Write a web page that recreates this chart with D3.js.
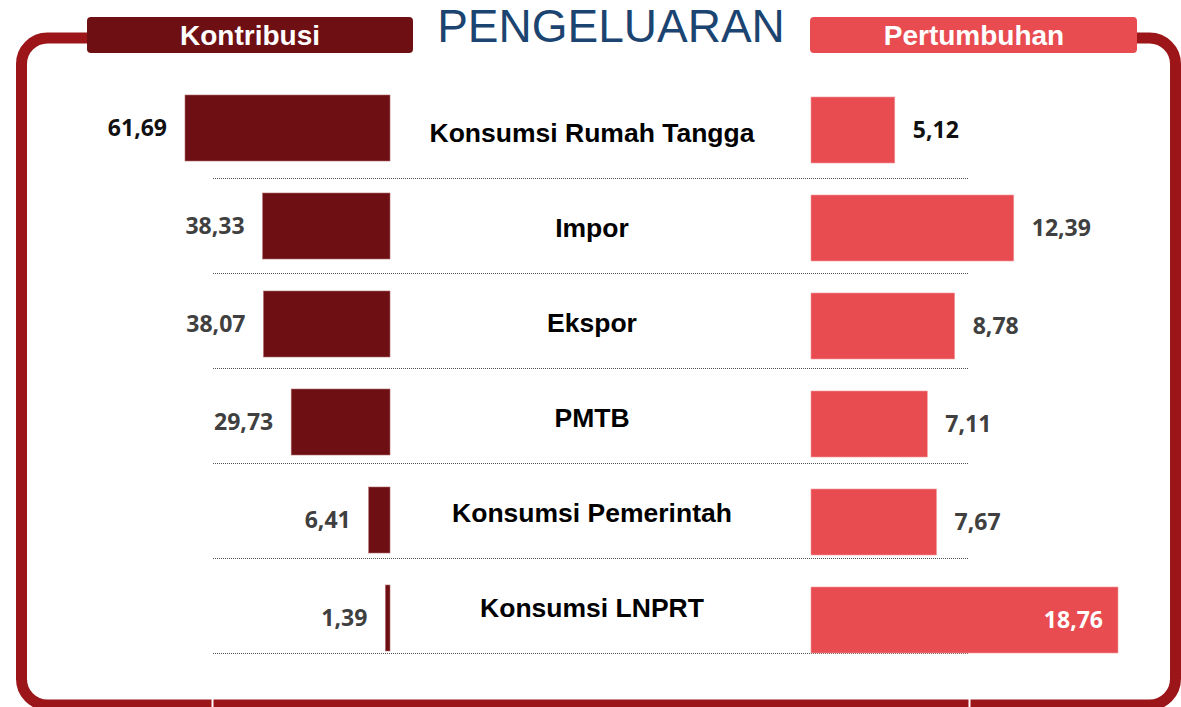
<!DOCTYPE html>
<html>
<head>
<meta charset="utf-8">
<script src="https://cdn.jsdelivr.net/npm/d3@7/dist/d3.min.js"></script>
<style>
  html, body { margin: 0; padding: 0; background: #fff; }
  svg { display: block; }
</style>
</head>
<body>
<svg id="chart" width="1181" height="707"></svg>
<script>
const title = "PENGELUARAN";
const leftHeader = "Kontribusi";
const rightHeader = "Pertumbuhan";
const categories = ["Konsumsi Rumah Tangga", "Impor", "Ekspor", "PMTB", "Konsumsi Pemerintah", "Konsumsi LNPRT"];
const kontribusi = [61.69, 38.33, 38.07, 29.73, 6.41, 1.39];
const pertumbuhan = [5.12, 12.39, 8.78, 7.11, 7.67, 18.76];

const fmt = v => d3.format(".2f")(v).replace(".", ",");

const svg = d3.select("#chart");
const frameColor = "#9b1519";
const leftColor = "#6e1013";
const rightColor = "#e84c51";

// frame
svg.append("rect")
  .attr("x", 21.5).attr("y", 38).attr("width", 1154).attr("height", 667)
  .attr("rx", 26).attr("ry", 26)
  .attr("fill", "none").attr("stroke", frameColor).attr("stroke-width", 11);
// white gap behind title
svg.append("rect").attr("x", 413).attr("y", 28).attr("width", 397).attr("height", 22).attr("fill", "#fff");
// small white gaps in the bottom border
[212.5, 969.5].forEach(x => {
  svg.append("line").attr("x1", x).attr("x2", x).attr("y1", 698).attr("y2", 707)
    .attr("stroke", "#fff").attr("stroke-width", 2);
});

// headers
svg.append("rect").attr("x", 87).attr("y", 17).attr("width", 326).attr("height", 36)
  .attr("rx", 4).attr("fill", leftColor);
svg.append("text").attr("x", 250).attr("y", 45).attr("text-anchor", "middle")
  .attr("font-family", "Liberation Sans, Arial, sans-serif").attr("font-weight", "bold")
  .attr("font-size", 28).attr("fill", "#fff").text(leftHeader);
svg.append("rect").attr("x", 810).attr("y", 17).attr("width", 327).attr("height", 36)
  .attr("rx", 4).attr("fill", rightColor);
svg.append("text").attr("x", 974).attr("y", 45).attr("text-anchor", "middle")
  .attr("font-family", "Liberation Sans, Arial, sans-serif").attr("font-weight", "bold")
  .attr("font-size", 28).attr("fill", "#fff").text(rightHeader);

// title
svg.append("text").attr("x", 611).attr("y", 42).attr("text-anchor", "middle")
  .attr("font-family", "Liberation Sans, Arial, sans-serif")
  .attr("font-size", 46).attr("fill", "#1b4470").text(title);

// scales
const yL = d3.scaleBand().domain(categories).range([95, 651]).paddingInner(32 / 98).paddingOuter(0);
const yR = d3.scaleBand().domain(categories).range([97, 653]).paddingInner(32 / 98).paddingOuter(0);
const yLine = d3.scalePoint().domain(categories).range([178, 653]);
const xL = d3.scaleLinear().domain([0, d3.max(kontribusi)]).range([390, 185]);
const xR = d3.scaleLinear().domain([0, d3.max(pertumbuhan)]).range([811, 1118]);

const rows = categories.map((c, i) => ({ c, k: kontribusi[i], p: pertumbuhan[i], i }));

// dotted separators
svg.append("g").selectAll("line").data(rows).join("line")
  .attr("x1", 213).attr("x2", 968)
  .attr("y1", d => yLine(d.c) + 0.5).attr("y2", d => yLine(d.c) + 0.5)
  .attr("stroke", "#555").attr("stroke-width", 1).attr("stroke-dasharray", "1,1");

// left bars
svg.append("g").selectAll("rect").data(rows).join("rect")
  .attr("x", d => xL(d.k)).attr("y", d => yL(d.c))
  .attr("width", d => xL(0) - xL(d.k)).attr("height", yL.bandwidth())
  .attr("fill", leftColor).attr("stroke", "#b06a6c").attr("stroke-width", 0.6);

// right bars
svg.append("g").selectAll("rect").data(rows).join("rect")
  .attr("x", xR(0)).attr("y", d => yR(d.c))
  .attr("width", d => xR(d.p) - xR(0)).attr("height", yR.bandwidth())
  .attr("fill", rightColor).attr("stroke", "#f29a9d").attr("stroke-width", 0.6);

const valFont = "'Open Sans', sans-serif";

// left values
svg.append("g").selectAll("text").data(rows).join("text")
  .attr("x", d => xL(d.k) - 18)
  .attr("y", d => yL(d.c) + yL.bandwidth() / 2)
  .attr("dy", "0.35em")
  .attr("text-anchor", "end")
  .attr("font-family", valFont).attr("font-weight", "bold").attr("font-size", 23)
  .attr("fill", d => d.i === 0 ? "#111" : "#404040")
  .text(d => fmt(d.k));

// right values
const maxP = d3.max(pertumbuhan);
svg.append("g").selectAll("text").data(rows).join("text")
  .attr("x", d => d.p === maxP ? xR(d.p) - 15 : xR(d.p) + 18)
  .attr("y", d => yR(d.c) + yR.bandwidth() / 2)
  .attr("dy", "0.35em")
  .attr("text-anchor", d => d.p === maxP ? "end" : "start")
  .attr("font-family", valFont).attr("font-weight", "bold").attr("font-size", 23)
  .attr("fill", d => d.p === maxP ? "#fff" : (d.i === 0 ? "#111" : "#404040"))
  .text(d => fmt(d.p));

// category labels
svg.append("g").selectAll("text").data(rows).join("text")
  .attr("x", 592)
  .attr("y", d => yLine(d.c) - 36)
  .attr("text-anchor", "middle")
  .attr("font-family", "Liberation Sans, Arial, sans-serif").attr("font-weight", "bold")
  .attr("font-size", 26.5).attr("fill", "#000")
  .text(d => d.c);
</script>
</body>
</html>
